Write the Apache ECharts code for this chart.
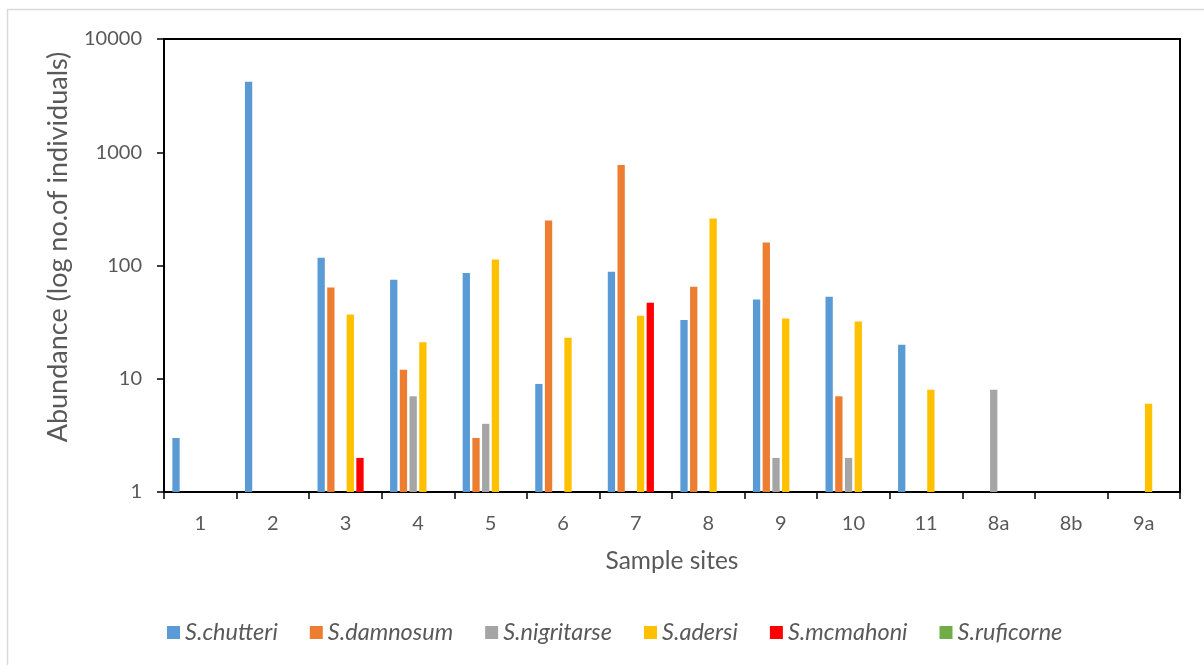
<!DOCTYPE html>
<html>
<head>
<meta charset="utf-8">
<script src="https://cdn.jsdelivr.net/npm/echarts@6/dist/echarts.min.js"></script>
<style>
  html, body { margin: 0; padding: 0; background: #fff; }
  #chart { width: 1204px; height: 665px; }
</style>
</head>
<body>
<div id="chart"></div>
<script>
// Sample sites along the x axis
const sites = ['1', '2', '3', '4', '5', '6', '7', '8', '9', '10', '11', '8a', '8b', '9a'];

// Abundance per site for each Simulium species ('-' = none collected)
const chutteri   = [3, 4200, 117, 75, 86, 9, 88, 33, 50, 53, 20, '-', '-', '-'];
const damnosum   = ['-', '-', 64, 12, 3, 250, 770, 65, 160, 7, '-', '-', '-', '-'];
const nigritarse = ['-', '-', '-', 7, 4, '-', '-', '-', 2, 2, '-', 8, '-', '-'];
const adersi     = ['-', '-', 37, 21, 113, 23, 36, 260, 34, 32, 8, '-', '-', 6];
const mcmahoni   = ['-', '-', 2, '-', '-', '-', 47, '-', '-', '-', '-', '-', '-', '-'];
const ruficorne  = ['-', '-', '-', '-', '-', '-', '-', '-', '-', '-', '-', '-', '-', '-'];

// Log axis tick labels
const yTicks = [1, 10, 100, 1000, 10000];

const speciesNames = ['S.chutteri', 'S.damnosum', 'S.nigritarse', 'S.adersi', 'S.mcmahoni', 'S.ruficorne'];
const speciesData = [chutteri, damnosum, nigritarse, adersi, mcmahoni, ruficorne];
const speciesColors = ['#5B9BD5', '#ED7D31', '#A5A5A5', '#FFC000', '#FF0000', '#70AD47'];

const textColor = '#595959';
const fontFamily = 'Lato, "Open Sans", sans-serif';

const chart = echarts.init(document.getElementById('chart'), null, { renderer: 'canvas' });

chart.setOption({
  animation: false,
  backgroundColor: '#fff',
  textStyle: { fontFamily: fontFamily, color: textColor },
  graphic: [
    // light frame around the chart area
    { type: 'polyline', shape: { points: [[7.5, 665], [7.5, 9.5], [1204, 9.5]] },
      style: { stroke: '#D9D9D9', lineWidth: 1.5, fill: null }, silent: true },
    { type: 'text', x: 58, y: 247, rotation: Math.PI / 2,
      style: { text: 'Abundance (log no.of individuals)', fill: textColor,
               font: '27px ' + fontFamily, align: 'center', verticalAlign: 'middle' } }
  ],
  grid: {
    left: 164, right: 24, top: 39, bottom: 173,
    show: true, borderColor: '#000', borderWidth: 2, backgroundColor: 'transparent'
  },
  legend: {
    data: speciesNames,
    left: 167, top: 621,
    icon: 'rect', itemWidth: 13, itemHeight: 13, itemGap: 32, padding: 0,
    textStyle: { fontSize: 23.5, fontStyle: 'italic', color: textColor, fontFamily: fontFamily }
  },
  xAxis: {
    type: 'category',
    data: sites,
    boundaryGap: true,
    name: 'Sample sites',
    nameLocation: 'middle',
    nameGap: 57,
    nameTextStyle: { fontSize: 24.5, color: textColor },
    axisLine: { lineStyle: { color: '#000', width: 2 } },
    axisTick: { show: true, inside: false, length: 7, interval: 0, lineStyle: { color: '#000', width: 1.5 } },
    axisLabel: { fontSize: 20, color: textColor, margin: 22, interval: 0 },
    splitLine: { show: false }
  },
  yAxis: {
    type: 'log',
    logBase: 10,
    min: yTicks[0],
    max: yTicks[yTicks.length - 1],
    axisLine: { show: true, lineStyle: { color: '#000', width: 2 } },
    axisTick: { show: true, inside: false, length: 7, lineStyle: { color: '#000', width: 1.5 } },
    axisLabel: { fontSize: 20, color: textColor, margin: 22, formatter: v => String(Math.round(v)) },
    splitLine: { show: false }
  },
  series: speciesNames.map((name, i) => ({
    name: name,
    type: 'bar',
    data: speciesData[i],
    barWidth: 7.3,
    barGap: '33%',
    itemStyle: { color: speciesColors[i] }
  }))
});
</script>
</body>
</html>
